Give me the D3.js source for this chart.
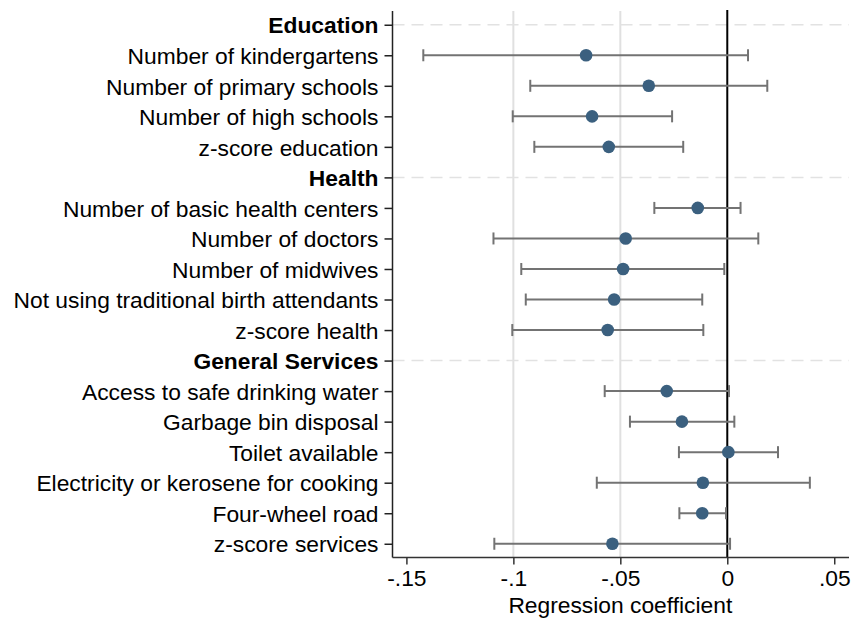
<!DOCTYPE html>
<html>
<head>
<meta charset="utf-8">
<script src="https://cdn.jsdelivr.net/npm/d3@7"></script>
<style>
  html, body { margin: 0; padding: 0; background: #fff; }
  svg { display: block; font-family: Arial, "Liberation Sans", Helvetica, sans-serif; }
</style>
</head>
<body>
<svg id="chart" width="854" height="619"></svg>
<script>
// ---- Data ----
const rowLabels = [
  "Education",
  "Number of kindergartens",
  "Number of primary schools",
  "Number of high schools",
  "z-score education",
  "Health",
  "Number of basic health centers",
  "Number of doctors",
  "Number of midwives",
  "Not using traditional birth attendants",
  "z-score health",
  "General Services",
  "Access to safe drinking water",
  "Garbage bin disposal",
  "Toilet available",
  "Electricity or kerosene for cooking",
  "Four-wheel road",
  "z-score services"
];
const headerRows = ["Education", "Health", "General Services"];
// coefficient estimates (null for header rows)
const coef = [null, -0.0660, -0.0367, -0.0632, -0.0554,
              null, -0.0138, -0.0475, -0.0487, -0.0529, -0.0559,
              null, -0.0283, -0.0212, 0.0005, -0.0114, -0.0117, -0.0537];
const ciLow = [null, -0.1421, -0.0921, -0.1003, -0.0902,
               null, -0.0341, -0.1093, -0.0963, -0.0942, -0.1005,
               null, -0.0573, -0.0455, -0.0226, -0.0610, -0.0224, -0.1089];
const ciHigh = [null, 0.0097, 0.0187, -0.0258, -0.0206,
                null, 0.0062, 0.0145, -0.0014, -0.0117, -0.0112,
                null, 0.0008, 0.0033, 0.0237, 0.0386, -0.0006, 0.0013];
const xTicks = [-0.15, -0.1, -0.05, 0, 0.05];
const xTickLabels = ["-.15", "-.1", "-.05", "0", ".05"];
const gridTicks = [-0.1, -0.05];
const xTitle = "Regression coefficient";

(function () {
// ---- Layout ----
const svg = d3.select("#chart");
const pl = 392.5, pr = 849, pt = 11, pb = 557.5;
const fontSize = 22.8;

const x = d3.scaleLinear().domain([-0.1565, 0.0569]).range([pl, pr]);
const y = d3.scalePoint().domain(rowLabels).range([pt, pb]).padding(0.45);

const rows = rowLabels.map((label, i) => ({
  label, header: headerRows.includes(label),
  coef: coef[i], lo: ciLow[i], hi: ciHigh[i]
}));

// vertical gridlines
svg.append("g").selectAll("line").data(gridTicks).join("line")
  .attr("x1", d => x(d)).attr("x2", d => x(d))
  .attr("y1", pt).attr("y2", pb)
  .attr("stroke", "#e0e0e0").attr("stroke-width", 2);

// dashed header lines
svg.append("g").selectAll("line").data(rows.filter(r => r.header)).join("line")
  .attr("x1", pl).attr("x2", pr)
  .attr("y1", d => y(d.label)).attr("y2", d => y(d.label))
  .attr("stroke", "#e2e2e2").attr("stroke-width", 1.5)
  .attr("stroke-dasharray", "12,7");

// zero line
svg.append("line")
  .attr("x1", x(0)).attr("x2", x(0))
  .attr("y1", pt - 1).attr("y2", pb)
  .attr("stroke", "#000").attr("stroke-width", 2);

// error bars
const est = rows.filter(r => !r.header);
const eb = svg.append("g").attr("stroke", "#737373").attr("stroke-width", 2);
eb.selectAll("line.ci").data(est).join("line").attr("class", "ci")
  .attr("x1", d => x(d.lo)).attr("x2", d => x(d.hi))
  .attr("y1", d => y(d.label)).attr("y2", d => y(d.label));
eb.selectAll("line.capl").data(est).join("line").attr("class", "capl")
  .attr("x1", d => x(d.lo)).attr("x2", d => x(d.lo))
  .attr("y1", d => y(d.label) - 6).attr("y2", d => y(d.label) + 6);
eb.selectAll("line.caph").data(est).join("line").attr("class", "caph")
  .attr("x1", d => x(d.hi)).attr("x2", d => x(d.hi))
  .attr("y1", d => y(d.label) - 6).attr("y2", d => y(d.label) + 6);

// points
svg.append("g").selectAll("circle").data(est).join("circle")
  .attr("cx", d => x(d.coef)).attr("cy", d => y(d.label))
  .attr("r", 6.3).attr("fill", "#3b607f");

// y axis
const yAxis = svg.append("g").attr("transform", `translate(${pl},0)`)
  .call(d3.axisLeft(y).tickSize(8).tickPadding(6));
yAxis.select(".domain").attr("d", `M0,${pt}V${pb}`).attr("stroke", "#222").attr("stroke-width", 1.5);
yAxis.selectAll(".tick line").attr("stroke", "#222").attr("stroke-width", 1.5);
yAxis.selectAll(".tick text")
  .attr("font-size", fontSize).attr("font-family", "Arial, 'Liberation Sans', sans-serif")
  .attr("fill", "#000").attr("dy", "0.36em")
  .attr("font-weight", d => headerRows.includes(d) ? "bold" : "normal");

// x axis
const xAxis = svg.append("g").attr("transform", `translate(0,${pb})`)
  .call(d3.axisBottom(x).tickValues(xTicks).tickFormat((d, i) => xTickLabels[i]).tickSize(7).tickPadding(5));
xAxis.select(".domain").attr("d", `M${pl},0H${pr}`).attr("stroke", "#333").attr("stroke-width", 1.5);
xAxis.selectAll(".tick line").attr("stroke", "#333").attr("stroke-width", 1.5);
xAxis.selectAll(".tick text")
  .attr("font-size", fontSize).attr("font-family", "Arial, 'Liberation Sans', sans-serif")
  .attr("fill", "#000");

// x title
svg.append("text")
  .attr("x", (x(-0.1) + x(0.0)) / 2).attr("y", 612.5)
  .attr("text-anchor", "middle").attr("font-size", fontSize)
  .attr("fill", "#000").text(xTitle);
})();
</script>
</body>
</html>
